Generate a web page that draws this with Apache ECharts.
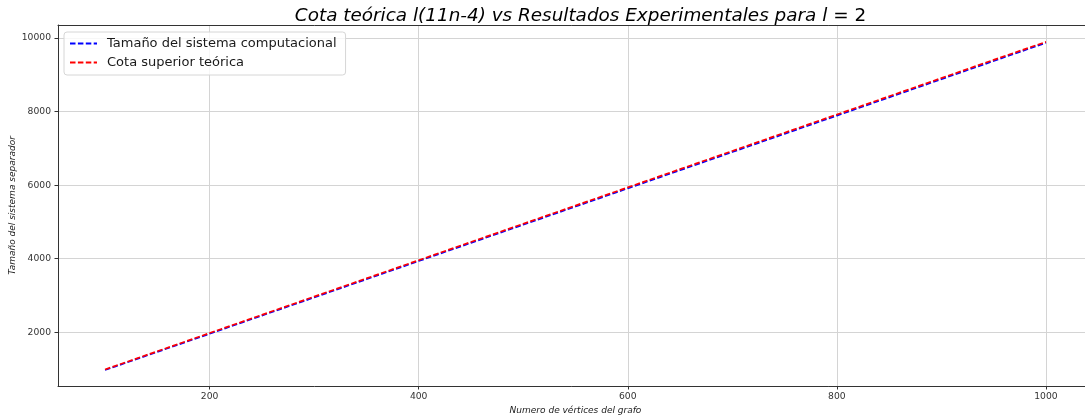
<!DOCTYPE html>
<html>
<head>
<meta charset="utf-8">
<script src="https://cdn.jsdelivr.net/npm/echarts@6/dist/echarts.min.js"></script>
<style>
html,body{margin:0;padding:0;background:#fff;}
#chart{width:1085px;height:419px;}
</style>
</head>
<body>
<div id="chart"></div>
<script>
var vertices = [100,150,200,250,300,350,400,450,500,550,600,650,700,750,800,850,900,950,1000];
var computational = [975,1468,1960,2455,2948,3442,3937,4430,4925,5418,5912,6405,6900,7395,7890,8385,8880,9375,9870];
var theoretical = [990,1485,1980,2475,2970,3465,3960,4455,4950,5445,5940,6435,6930,7425,7920,8415,8910,9405,9895];
var xTicks = [200,400,600,800,1000];
var yTicks = [2000,4000,6000,8000,10000];
var seriesNames = ['Tamaño del sistema computacional','Cota superior teórica'];

function pairs(xs, ys){ return xs.map(function(x,i){ return [x, ys[i]]; }); }

var FONT = 'DejaVu Sans';
var chart = echarts.init(document.getElementById('chart'), null, {renderer:'canvas'});
chart.setOption({
  animation: false,
  backgroundColor: '#ffffff',
  title: {
    text: '{i|Cota teórica l(11n-4) vs Resultados Experimentales para l}{n| = 2}',
    left: 575.5,
    top: 2,
    textAlign: 'center',
    textStyle: {
      fontWeight: 'normal',
      rich: {
        i: {fontFamily: FONT, fontStyle: 'italic', fontWeight: 'normal', fontSize: 18.4, color: '#000'},
        n: {fontFamily: FONT, fontStyle: 'normal', fontWeight: 'normal', fontSize: 18.4, color: '#000'}
      }
    }
  },
  legend: {
    orient: 'vertical',
    left: 64,
    top: 32,
    itemWidth: 27,
    itemHeight: 10,
    itemGap: 6,
    padding: [5, 9, 6, 5],
    borderColor: '#d6d6d6',
    borderWidth: 1,
    borderRadius: 3,
    backgroundColor: 'rgba(255,255,255,0.8)',
    itemStyle: {opacity: 0},
    textStyle: {fontFamily: FONT, fontSize: 13, color: '#1a1a1a', padding: [0,0,0,5]},
    data: seriesNames
  },
  grid: {
    left: 58, right: -8, top: 25, bottom: 33,
    outerBoundsMode: 'none',
    containLabel: false,
    show: false
  },
  xAxis: [{
    type: 'value',
    min: 55, max: 1045,
    name: 'Numero de vértices del grafo',
    nameLocation: 'middle',
    nameGap: 20,
    nameMoveOverlap: false,
    nameTextStyle: {fontFamily: FONT, fontStyle: 'italic', fontSize: 9, color: '#1a1a1a'},
    axisLine: {show: true, lineStyle: {color: '#333333', width: 1}},
    axisTick: {show: true, length: 3.5, customValues: xTicks, lineStyle: {color: '#333333'}},
    axisLabel: {customValues: xTicks, margin: 6, fontFamily: FONT, fontSize: 9.2, color: '#333333',
      formatter: function(v){ return String(v); }},
    splitLine: {show: true, lineStyle: {color: '#d4d4d4', width: 1}}
  }, {
    type: 'value',
    position: 'top',
    min: 55, max: 1045,
    axisLine: {show: true, onZero: false, lineStyle: {color: '#333333', width: 1}},
    axisTick: {show: false},
    axisLabel: {show: false},
    splitLine: {show: false}
  }],
  yAxis: {
    type: 'value',
    min: 541, max: 10353,
    name: 'Tamaño del sistema separador',
    nameLocation: 'middle',
    nameGap: 41,
    nameMoveOverlap: false,
    nameTextStyle: {fontFamily: FONT, fontStyle: 'italic', fontSize: 9, color: '#1a1a1a'},
    axisLine: {show: true, lineStyle: {color: '#333333', width: 1}},
    axisTick: {show: true, length: 3.5, customValues: yTicks, lineStyle: {color: '#333333'}},
    axisLabel: {customValues: yTicks, margin: 7, fontFamily: FONT, fontSize: 9.2, color: '#333333',
      formatter: function(v){ return String(v); }},
    splitLine: {show: true, lineStyle: {color: '#d4d4d4', width: 1}}
  },
  series: [
    {
      name: seriesNames[0], type: 'line', data: pairs(vertices, computational),
      symbol: 'none', showSymbol: false, color: '#0000ff',
      lineStyle: {color: '#0000ff', width: 1.7, type: [5.5, 2.4]}
    },
    {
      name: seriesNames[1], type: 'line', data: pairs(vertices, theoretical),
      symbol: 'none', showSymbol: false, color: '#ff0000',
      lineStyle: {color: '#ff0000', width: 1.7, type: [5.5, 2.4]}
    }
  ]
});
</script>
</body>
</html>
